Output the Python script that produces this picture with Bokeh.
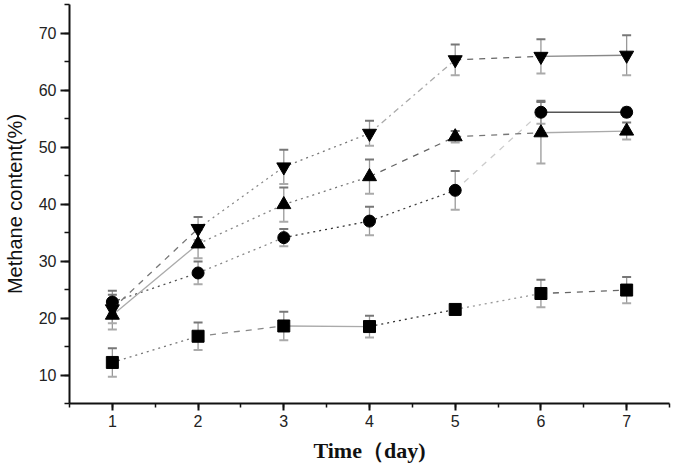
from bokeh.plotting import figure
from bokeh.models import ColumnDataSource, Whisker, TeeHead, Range1d, FixedTicker
from bokeh.embed import file_html
from bokeh.resources import INLINE

days = [1, 2, 3, 4, 5, 6, 7]
sq = [12.2, 16.8, 18.6, 18.5, 21.5, 24.3, 24.9]
sq_err = [2.5, 2.4, 2.5, 1.9, 0.8, 2.4, 2.3]
ci = [22.8, 27.9, 34.1, 37.0, 42.4, 56.1, 56.1]
ci_err = [2.0, 2.0, 1.5, 2.5, 3.4, 2.0, 0.8]
tu = [20.5, 33.0, 39.9, 44.8, 51.8, 52.5, 52.8]
tu_err = [2.5, 2.5, 3.0, 3.0, 1.0, 5.4, 1.5]
td = [21.6, 35.7, 46.5, 52.4, 65.3, 65.9, 66.1]
td_err = [2.5, 2.0, 3.0, 2.2, 2.7, 3.0, 3.5]

x_ticks = [1, 2, 3, 4, 5, 6, 7]
y_ticks = [10, 20, 30, 40, 50, 60, 70]

p = figure(width=672, height=466, output_backend="svg", toolbar_location=None,
           x_range=Range1d(0.5, 7.5), y_range=Range1d(5, 75),
           min_border_left=62, min_border_right=3, min_border_top=4, min_border_bottom=63)
p.outline_line_color = None
p.grid.visible = False
p.background_fill_color = "white"

for ax in (p.xaxis[0], p.yaxis[0]):
    ax.axis_line_width = 2
    ax.axis_line_color = "#111111"
    ax.major_tick_line_width = 2
    ax.minor_tick_line_width = 1.5
    ax.major_tick_line_color = "#111111"
    ax.minor_tick_line_color = "#111111"
    ax.major_tick_in = 0
    ax.minor_tick_in = 0
    ax.major_label_text_font = "Liberation Sans"
    ax.major_label_text_font_size = "16px"
    ax.major_label_text_color = "#222222"
    ax.major_label_standoff = 4

p.xaxis.ticker = FixedTicker(ticks=x_ticks, minor_ticks=[0.5 + 0.5 * i for i in range(15)])
p.yaxis.ticker = FixedTicker(ticks=y_ticks, minor_ticks=[5 + 5 * i for i in range(15)])
p.xaxis.major_tick_out = 7
p.xaxis.minor_tick_out = 4
p.yaxis.major_tick_out = 9
p.yaxis.minor_tick_out = 5

p.xaxis.axis_label = "Time（day)"
p.xaxis.axis_label_text_font = "Liberation Serif"
p.xaxis.axis_label_text_font_style = "bold"
p.xaxis.axis_label_text_font_size = "22px"
p.xaxis.axis_label_text_color = "#111111"
p.xaxis.axis_label_standoff = 8

p.yaxis.axis_label = "Methane content(%)"
p.yaxis.axis_label_text_font = "Liberation Sans"
p.yaxis.axis_label_text_font_style = "normal"
p.yaxis.axis_label_text_font_size = "20px"
p.yaxis.axis_label_text_color = "#111111"
p.yaxis.axis_label_standoff = 10

series = [
    (sq, sq_err, "square", 12,
     [("dotted", "#777777"), ("dashed", "#888888"), ("solid", "#aaaaaa"),
      ("dotted", "#333333"), ("dotted", "#999999"), ("dashed", "#666666")]),
    (ci, ci_err, "circle", 12,
     [("dotted", "#555555"), ("dotted", "#888888"), ("dotted", "#333333"),
      ("dotted", "#444444"), ("dashed", "#cccccc"), ("solid", "#555555")]),
    (tu, tu_err, "triangle", 14,
     [("solid", "#aaaaaa"), ("dotted", "#888888"), ("dotted", "#777777"),
      ("dashed", "#666666"), ("dashed", "#777777"), ("solid", "#aaaaaa")]),
    (td, td_err, "inverted_triangle", 14,
     [("dashed", "#777777"), ("dotted", "#888888"), ("dotted", "#777777"),
      ("dashdot", "#aaaaaa"), ("dashed", "#666666"), ("solid", "#888888")]),
]

for vals, errs, marker, size, styles in series:
    for i, (dash, col) in enumerate(styles):
        p.line(days[i:i + 2], vals[i:i + 2], line_color=col, line_width=1.3, line_dash=dash)
    src = ColumnDataSource(dict(x=days, y=vals,
                                lo=[v - e for v, e in zip(vals, errs)],
                                hi=[v + e for v, e in zip(vals, errs)]))
    w = Whisker(source=src, base="x", lower="lo", upper="hi", dimension="height",
                line_color="#999999", line_width=1.3,
                upper_head=TeeHead(size=9, line_color="#777777", line_width=2),
                lower_head=TeeHead(size=9, line_color="#aaaaaa", line_width=2))
    p.add_layout(w)
    p.scatter("x", "y", source=src, marker=marker, size=size,
              fill_color="black", line_color="black")

open("out.html", "w").write(file_html(p, INLINE))
